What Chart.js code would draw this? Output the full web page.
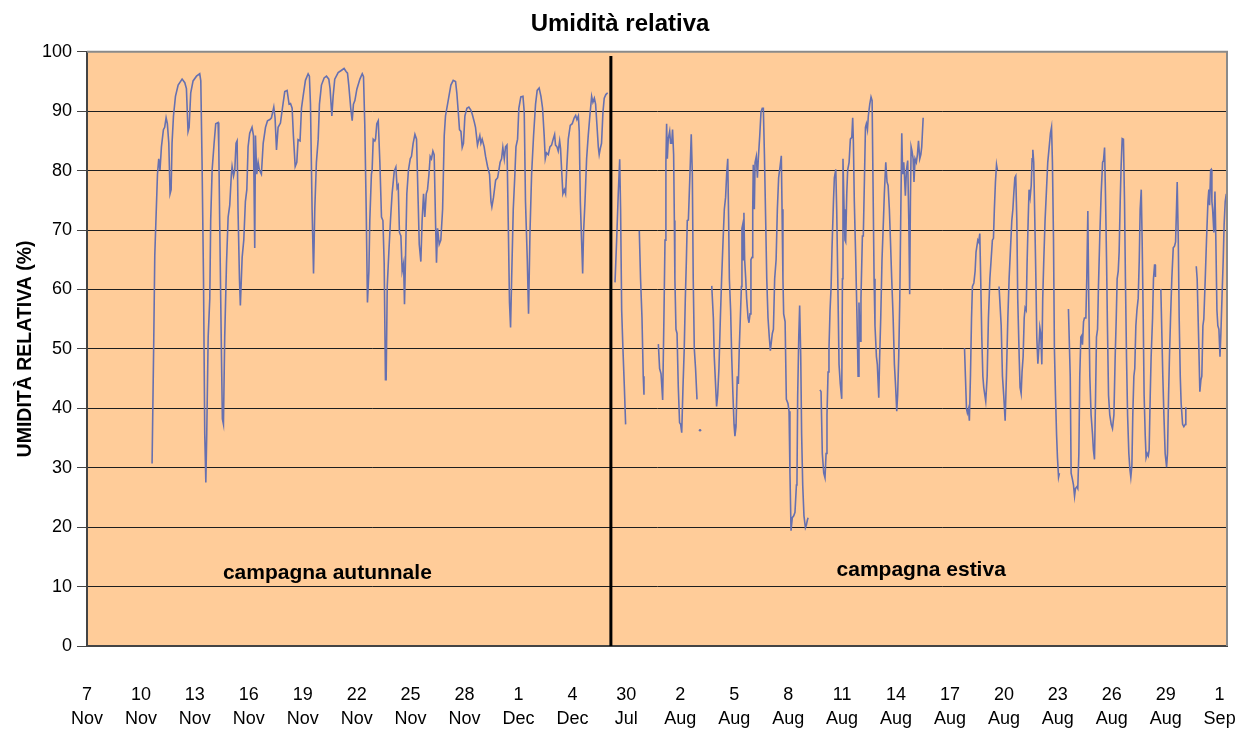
<!DOCTYPE html>
<html>
<head>
<meta charset="utf-8">
<title>Umidità relativa</title>
<script src="https://cdn.jsdelivr.net/npm/chart.js@4.4.1/dist/chart.umd.min.js"></script>
<style>
    html, body { margin: 0; padding: 0; background: #ffffff; }
    #wrap { width: 1240px; height: 731px; }
</style>
</head>
<body>
<div id="wrap"><canvas id="rhChart" width="1240" height="731"></canvas></div>
<script>
// Days counted from 7 Nov (autumn) and continued on the same axis for the summer campaign
const tickDays = [0, 3, 6, 9, 12, 15, 18, 21, 24, 27, 30, 33, 36, 39, 42, 45, 48, 51, 54, 57, 60, 63];
const tickLabels = [
    ['7', 'Nov'], ['10', 'Nov'], ['13', 'Nov'], ['16', 'Nov'], ['19', 'Nov'], ['22', 'Nov'],
    ['25', 'Nov'], ['28', 'Nov'], ['1', 'Dec'], ['4', 'Dec'], ['30', 'Jul'], ['2', 'Aug'],
    ['5', 'Aug'], ['8', 'Aug'], ['11', 'Aug'], ['14', 'Aug'], ['17', 'Aug'], ['20', 'Aug'],
    ['23', 'Aug'], ['26', 'Aug'], ['29', 'Aug'], ['1', 'Sep']
];
const yTicks = [0, 10, 20, 30, 40, 50, 60, 70, 80, 90, 100];

// campagna autunnale
const autumnDays = [
    3.62, 3.71, 3.77, 3.82, 3.92, 3.99, 4.06, 4.14, 4.25, 4.32, 4.40, 4.47, 4.55, 4.62, 4.68, 4.73, 4.81, 4.92, 5.07, 5.29,
    5.44, 5.53, 5.62, 5.68, 5.77, 5.90, 6.09, 6.27, 6.33, 6.40, 6.48, 6.55, 6.61, 6.66, 6.74, 6.83, 6.88, 6.96, 7.07, 7.16,
    7.29, 7.33, 7.38, 7.48, 7.53, 7.59, 7.66, 7.76, 7.85, 7.94, 8.03,
    8.07, 8.15, 8.22, 8.29, 8.35, 8.40, 8.48, 8.53, 8.63, 8.72, 8.81, 8.89, 8.96, 9.05, 9.18, 9.26, 9.33, 9.37, 9.44, 9.52,
    9.59, 9.70, 9.80, 9.93, 10.04, 10.17, 10.26, 10.39, 10.46, 10.54, 10.63, 10.76, 10.87, 11.00, 11.13, 11.24, 11.32, 11.41, 11.48, 11.58,
    11.67, 11.74, 11.85, 11.93, 12.02, 12.15, 12.30, 12.37, 12.43, 12.52, 12.60, 12.67, 12.76, 12.86, 12.93, 13.04, 13.19, 13.32, 13.45, 13.52,
    13.62, 13.69, 13.78, 13.97, 14.16, 14.30, 14.41, 14.49, 14.56, 14.67, 14.75, 14.82, 14.90, 15.01, 15.08, 15.18, 15.31, 15.38, 15.45, 15.53,
    15.60, 15.68, 15.73, 15.82, 15.86, 15.92, 16.01,
    16.05, 16.12, 16.20, 16.29, 16.38, 16.46, 16.53, 16.60, 16.64, 16.70, 16.79, 16.88, 16.97, 17.09, 17.18, 17.25, 17.31, 17.38, 17.46, 17.53,
    17.61, 17.66, 17.72, 17.79, 17.88, 17.98, 18.05, 18.14, 18.24, 18.33, 18.42, 18.48, 18.57, 18.64, 18.72, 18.79, 18.87, 18.94, 19.02, 19.09,
    19.16, 19.24, 19.31, 19.39, 19.44, 19.50, 19.59, 19.68, 19.78, 19.87, 19.94, 20.09, 20.24, 20.37, 20.50, 20.57, 20.65, 20.72, 20.80, 20.87,
    20.94, 21.02, 21.13, 21.24, 21.35, 21.43, 21.54, 21.61, 21.72, 21.80, 21.85, 21.91, 21.98, 22.09, 22.17, 22.28, 22.39, 22.47, 22.52, 22.61,
    22.73, 22.84, 22.91, 22.98, 23.06, 23.13, 23.21, 23.28, 23.36, 23.43, 23.50, 23.56, 23.62, 23.71, 23.80,
    23.86, 23.95, 24.02, 24.13, 24.25, 24.32, 24.39, 24.49, 24.56, 24.64, 24.73, 24.84, 24.95, 25.04, 25.15, 25.25, 25.34, 25.43, 25.49, 25.56,
    25.66, 25.75, 25.84, 25.93, 26.01, 26.06, 26.14, 26.21, 26.29, 26.34, 26.40, 26.47, 26.55, 26.62, 26.68, 26.77, 26.88, 26.99, 27.10, 27.18,
    27.25, 27.33, 27.38, 27.44, 27.51, 27.57, 27.62, 27.70, 27.79, 27.88, 27.97, 28.07, 28.14, 28.22, 28.29, 28.36, 28.44, 28.49, 28.55, 28.62,
    28.70, 28.77, 28.86, 28.96
];
const autumnRH = [
    30.7, 50.7, 65.7, 70.3, 79.4, 82.0, 80.1, 84.0, 86.9, 87.3, 88.9, 87.9, 84.6, 76.1, 76.8, 84.6, 89.2, 92.5, 94.4, 95.4,
    94.8, 93.8, 86.6, 87.3, 93.1, 95.1, 95.9, 96.3, 95.1, 81.4, 61.8, 35.6, 27.5, 35.6, 52.0, 58.5, 71.6, 80.1, 84.6, 87.9,
    88.1, 84.0, 71.6, 48.7, 38.2, 37.3, 52.0, 64.4, 72.2, 74.2, 79.4,
    80.7, 79.1, 80.1, 84.6, 85.0, 73.5, 61.8, 57.3, 65.4, 68.3, 74.8, 76.8, 84.0, 86.3, 87.3, 85.9, 67.0, 85.9, 79.4, 81.4,
    80.1, 79.4, 84.6, 87.3, 88.4, 88.6, 88.9, 90.7, 88.9, 83.5, 87.3, 88.0, 90.5, 93.3, 93.5, 91.2, 91.3, 90.5, 85.9, 80.7,
    81.4, 85.2, 85.0, 90.5, 92.5, 95.2, 96.3, 95.9, 91.2, 73.5, 62.7, 73.5, 81.4, 85.3, 91.2, 94.4, 95.6, 95.9, 95.4, 93.8,
    89.2, 92.5, 95.4, 96.5, 96.9, 97.2, 96.7, 96.4, 94.4, 90.5, 88.4, 91.2, 91.8, 93.7, 94.4, 95.4, 96.3, 95.8, 87.9, 73.5,
    57.8, 63.1, 71.6, 79.4, 80.1, 85.3, 85.0,
    85.3, 87.9, 88.4, 81.4, 72.2, 71.6, 64.4, 44.8, 44.8, 60.5, 66.3, 71.6, 76.1, 79.9, 80.6, 77.1, 77.5, 69.6, 69.0, 63.1,
    64.4, 57.5, 65.7, 76.1, 80.1, 82.0, 82.4, 84.6, 86.1, 85.3, 74.8, 67.6, 64.7, 71.6, 76.1, 72.2, 76.1, 76.8, 79.4, 82.4,
    82.0, 83.3, 82.7, 70.9, 64.5, 70.3, 67.6, 68.3, 73.5, 85.9, 89.2, 91.8, 94.4, 95.2, 95.0, 93.1, 89.9, 86.9, 86.6, 83.9,
    84.6, 89.2, 90.5, 90.7, 90.2, 89.5, 88.2, 87.3, 84.3, 85.3, 85.9, 84.6, 85.3, 84.0, 82.4, 80.7, 79.4, 74.8, 73.9, 75.5,
    78.4, 78.8, 80.1, 81.4, 82.0, 83.9, 82.0, 84.0, 84.3, 71.6, 57.8, 53.6, 61.8, 73.5, 79.4,
    84.0, 85.3, 90.5, 92.4, 92.5, 89.9, 74.8, 65.0, 55.9, 69.6, 79.4, 85.9, 91.2, 93.5, 93.9, 92.5, 90.5, 85.9, 82.0, 83.0,
    82.7, 84.0, 84.3, 85.3, 86.1, 84.3, 84.0, 83.3, 85.0, 83.7, 80.1, 76.1, 76.8, 76.1, 80.1, 85.3, 87.6, 87.9, 88.9, 89.3,
    88.6, 89.2, 86.6, 74.8, 68.3, 62.7, 69.6, 74.8, 82.0, 85.9, 89.2, 92.5, 91.5, 92.2, 91.2, 87.9, 84.0, 82.7, 83.7, 84.6,
    89.9, 92.2, 92.8, 93.1
];

// campagna estiva (null = missing data)
const summerDays = [
    29.37, 29.46, 29.55, 29.63, 29.68, 29.74, 29.81, 29.89, 29.96, 30.30,
    30.72, 30.79, 30.87, 30.94, 30.98, 31.40,
    31.78, 31.85, 31.93, 32.02, 32.09, 32.15, 32.20, 32.24, 32.28, 32.33, 32.41, 32.46, 32.52, 32.57, 32.63, 32.67, 32.70, 32.76, 32.82, 32.89,
    32.96, 33.02, 33.08, 33.15, 33.22, 33.28, 33.34, 33.39, 33.45, 33.50, 33.56, 33.61, 33.67, 33.72, 33.78, 33.85, 33.93, 34.02,
    34.10, 34.40,
    34.75, 34.84, 34.89, 34.95, 35.02, 35.08, 35.15, 35.23, 35.30, 35.38, 35.45, 35.52, 35.58, 35.64, 35.69, 35.73, 35.80, 35.86, 35.93, 35.99,
    36.04, 36.10, 36.17, 36.23, 36.28, 36.34, 36.40, 36.43, 36.47, 36.51, 36.54, 36.58, 36.64, 36.69, 36.77, 36.82, 36.88, 36.93, 36.99, 37.03,
    37.06, 37.12, 37.16, 37.23, 37.29, 37.34, 37.42, 37.49, 37.56, 37.62, 37.68, 37.75, 37.81, 37.88, 37.95, 38.01, 38.07, 38.12, 38.18, 38.25,
    38.33, 38.40, 38.47, 38.55, 38.62, 38.66, 38.71, 38.75, 38.83, 38.90, 38.99, 39.05, 39.10, 39.16, 39.23, 39.31, 39.38, 39.46, 39.49, 39.53,
    39.59, 39.64, 39.70, 39.75, 39.81, 39.88, 39.96, 40.01, 40.07, 40.11, 40.40,
    40.77, 40.83, 40.90, 40.98, 41.05, 41.11, 41.16, 41.22, 41.27, 41.33, 41.39, 41.44, 41.52, 41.57, 41.65, 41.70, 41.76, 41.83, 41.90, 41.98,
    42.02, 42.05, 42.11, 42.16, 42.20, 42.26, 42.31, 42.39, 42.46, 42.54, 42.59, 42.63, 42.68, 42.76, 42.83, 42.89, 42.94, 43.00, 43.05, 43.13,
    43.18, 43.24, 43.30, 43.35, 43.41, 43.46, 43.54, 43.61, 43.67, 43.72, 43.78, 43.83, 43.91, 43.96, 44.04, 44.09, 44.15, 44.22, 44.30, 44.35,
    44.43, 44.50, 44.56, 44.63, 44.69, 44.76, 44.84, 44.91, 44.98, 45.04, 45.09, 45.15, 45.21, 45.26, 45.32, 45.37, 45.43, 45.47, 45.52, 45.58,
    45.65, 45.71, 45.76, 45.80, 45.84, 45.89, 45.95, 46.00, 46.06, 46.13, 46.19, 46.25, 46.32, 46.38, 46.43, 46.51, 47.60,
    48.81, 48.86, 48.92, 48.97, 49.03, 49.08, 49.14, 49.20, 49.25, 49.33, 49.40, 49.45, 49.55, 49.60, 49.66, 49.71, 49.77, 49.83, 49.88, 49.94,
    49.99, 50.07, 50.14, 50.22, 50.29, 50.36, 50.42, 50.47, 50.53, 50.59, 50.64, 50.68,
    50.73, 50.85, 50.92, 50.99, 51.07, 51.14, 51.22, 51.29, 51.37, 51.44, 51.50, 51.55, 51.61, 51.66, 51.72, 51.77, 51.85, 51.90, 51.96, 52.01,
    52.07, 52.13, 52.18, 52.24, 52.29, 52.35, 52.40, 52.46, 52.52, 52.57, 52.61, 52.66, 52.72, 52.78, 52.83, 52.89, 52.94, 53.00, 53.05, 53.11,
    53.16, 53.22, 53.29, 53.37, 53.44, 53.52, 53.59, 53.65, 53.70, 53.76, 53.81, 53.87, 53.93, 53.98, 54.04, 54.09, 54.30,
    54.59, 54.69, 54.74, 54.81, 54.87, 54.93, 54.98, 55.06, 55.11, 55.17, 55.22, 55.28, 55.34, 55.37, 55.43, 55.48, 55.56, 55.61, 55.67, 55.72,
    55.78, 55.85, 55.93, 55.98, 56.04, 56.10, 56.15, 56.21, 56.26, 56.34, 56.41, 56.49, 56.54, 56.60, 56.65, 56.71, 56.76, 56.82, 56.89, 56.97,
    57.04, 57.12, 57.19, 57.25, 57.30, 57.36, 57.41, 57.47, 57.52, 57.58, 57.65, 57.71, 57.76, 57.82, 57.88, 57.95, 58.01, 58.06, 58.12, 58.17,
    58.23, 58.28, 58.34, 58.40, 58.47, 58.53, 58.58, 58.64, 58.69, 58.75, 58.80, 58.86, 58.91, 58.97, 59.03, 59.08, 59.14, 59.19, 59.27, 59.32,
    59.38, 59.42, 59.43, 59.60,
    59.73, 59.79, 59.84, 59.90, 59.97, 60.05, 60.10, 60.16, 60.21, 60.27, 60.34, 60.42, 60.49, 60.55, 60.60, 60.64, 60.70, 60.75, 60.81, 60.86,
    60.94, 61.01, 61.09, 61.12, 61.40,
    61.70, 61.75, 61.83, 61.90, 61.96, 62.01, 62.07, 62.12, 62.20, 62.27, 62.35, 62.40, 62.44, 62.50, 62.53, 62.57, 62.61, 62.68, 62.74, 62.79,
    62.85, 62.90, 62.96, 63.02, 63.07, 63.13, 63.20, 63.25, 63.31, 63.37
];
const summerRH = [
    61.2, 68.3, 76.1, 81.9, 73.5, 56.5, 50.0, 43.5, 37.3, null,
    69.9, 61.8, 55.2, 45.4, 42.3, null,
    50.8, 46.7, 45.8, 41.4, 55.2, 68.3, 81.4, 87.9, 82.0, 85.3, 86.6, 84.6, 84.6, 86.9, 82.7, 71.6, 61.8, 53.3, 52.6, 43.5,
    37.6, 37.3, 35.9, 43.5, 50.0, 58.5, 65.0, 71.6, 71.7, 76.1, 81.4, 86.1, 79.4, 61.8, 50.0, 46.7, 41.5, null,
    36.3, null,
    60.6, 55.2, 48.7, 44.8, 40.3, 42.2, 46.7, 55.2, 61.8, 68.3, 73.5, 75.5, 79.4, 82.0, 71.6, 61.8, 56.5, 48.7, 42.2, 37.3,
    35.3, 36.9, 45.4, 44.1, 50.0, 55.2, 60.5, 70.3, 70.9, 65.0, 72.9, 65.0, 61.8, 58.5, 55.2, 54.4, 55.9, 65.0, 65.4, 73.5,
    81.0, 73.5, 81.4, 82.4, 78.8, 82.0, 85.9, 89.9, 90.5, 90.5, 82.7, 71.6, 61.8, 55.2, 52.0, 49.7, 51.3, 52.6, 53.3, 61.8,
    65.0, 73.5, 78.8, 80.7, 82.5, 73.5, 61.8, 55.9, 54.6, 41.5, 40.8, 39.5, 29.1, 19.4, 21.6, 21.9, 22.5, 27.1, 27.5, 42.2,
    52.0, 57.3, 48.7, 35.6, 27.1, 21.9, 19.9, 20.3, 21.2, 21.6, null,
    43.1, 42.8, 32.4, 29.1, 28.3, 32.4, 38.9, 46.1, 50.0, 56.5, 60.5, 67.0, 74.8, 78.8, 80.2, 73.5, 61.8, 47.4, 44.1, 41.6,
    61.8, 82.0, 73.5, 68.3, 68.0, 76.1, 80.1, 81.4, 85.3, 85.6, 88.9, 84.6, 74.8, 65.0, 55.2, 45.4, 57.8, 51.3, 58.5, 69.0,
    69.0, 78.1, 87.3, 87.9, 86.9, 89.2, 91.2, 92.4, 91.8, 78.1, 61.8, 53.9, 48.7, 47.4, 41.8, 48.7, 55.2, 65.0, 71.6, 76.1,
    81.4, 78.1, 77.5, 73.5, 68.3, 61.8, 55.2, 47.4, 43.5, 39.5, 42.2, 48.7, 58.5, 71.6, 86.3, 79.4, 81.4, 79.1, 75.8, 80.1,
    81.7, 71.6, 59.2, 74.8, 84.0, 83.3, 82.0, 78.1, 82.0, 81.4, 82.7, 85.0, 82.0, 82.7, 84.0, 88.9, null,
    50.1, 45.4, 39.9, 39.2, 39.9, 37.9, 45.4, 55.2, 60.5, 61.1, 63.1, 66.3, 68.3, 68.0, 69.4, 61.8, 52.0, 45.4, 43.5, 42.2,
    41.2, 45.4, 55.2, 61.8, 65.0, 68.3, 68.6, 73.5, 78.1, 81.0, 80.1, null,
    60.5, 53.9, 45.4, 42.2, 37.9, 45.4, 55.2, 61.8, 67.0, 71.6, 73.5, 76.1, 78.8, 79.1, 71.6, 58.5, 48.7, 43.5, 42.5, 46.1,
    48.7, 55.2, 56.9, 56.5, 64.4, 71.6, 76.8, 75.5, 77.5, 82.0, 83.5, 81.4, 71.6, 61.8, 52.0, 47.5, 50.0, 53.6, 52.6, 47.4,
    58.5, 65.0, 71.6, 76.8, 81.4, 84.0, 86.3, 87.3, 81.4, 68.3, 50.0, 42.2, 35.6, 31.7, 28.4, 29.1, null,
    56.7, 45.4, 29.1, 28.1, 27.1, 25.2, 26.5, 26.8, 26.5, 32.4, 45.4, 52.0, 52.3, 50.7, 54.6, 55.2, 55.2, 61.8, 73.2, 58.5,
    45.4, 38.9, 35.6, 33.0, 31.4, 42.2, 52.0, 53.3, 60.5, 69.6, 76.1, 81.4, 81.7, 83.9, 76.1, 65.0, 53.9, 42.2, 38.9, 37.3,
    36.6, 38.9, 48.7, 55.2, 61.8, 63.1, 66.3, 74.8, 80.7, 85.4, 85.3, 74.8, 61.8, 48.7, 38.9, 32.4, 29.7, 28.4, 30.4, 38.9,
    45.4, 46.7, 53.9, 56.5, 58.5, 65.0, 73.5, 76.8, 68.3, 55.2, 42.2, 35.6, 31.7, 32.4, 32.0, 33.0, 42.2, 48.7, 55.2, 61.8,
    64.1, 64.1, 62.1, null,
    60.1, 52.0, 45.4, 38.9, 32.4, 30.1, 32.4, 42.2, 48.7, 55.2, 61.8, 67.0, 67.3, 68.0, 73.5, 78.1, 68.3, 55.2, 45.4, 40.8,
    37.3, 36.9, 37.3, 40.2, null,
    63.9, 61.8, 52.0, 42.8, 44.8, 45.4, 53.9, 55.0, 61.8, 68.3, 74.8, 76.8, 74.2, 80.1, 80.2, 74.8, 73.5, 69.6, 76.5, 68.3,
    56.5, 53.9, 53.3, 48.7, 52.6, 58.5, 65.0, 70.9, 74.8, 76.1
];

// separator between the two campaigns and the campaign captions
const breakDay = 29.14;
const campaignLabels = ['campagna autunnale', 'campagna estiva'];
const campaignLabelDays = [13.37, 46.40];
const campaignLabelRH = [11.3, 11.8];

const FONT = '"Liberation Sans", Arial, Helvetica, sans-serif';
const lineColor = '#6670B0';

function toPoints(days, values) {
    return days.map((d, i) => ({ x: d, y: values[i] }));
}

// orange plot area, outer frame, campaign separator and captions
const plotDecor = {
    id: 'plotDecor',
    beforeDraw(chart) {
        const { ctx, chartArea: a } = chart;
        ctx.save();
        ctx.fillStyle = '#FFCC99';
        ctx.fillRect(a.left, a.top, a.right - a.left, a.bottom - a.top);
        ctx.restore();
    },
    afterDatasetsDraw(chart) {
        const { ctx, chartArea: a, scales: { x, y } } = chart;
        ctx.save();
        ctx.strokeStyle = '#8a8a8a';
        ctx.lineWidth = 2;
        ctx.beginPath();
        ctx.moveTo(a.left, a.top);
        ctx.lineTo(a.right, a.top);
        ctx.lineTo(a.right, a.bottom);
        ctx.stroke();

        const bx = x.getPixelForValue(breakDay);
        ctx.strokeStyle = '#000000';
        ctx.lineWidth = 3;
        ctx.beginPath();
        ctx.moveTo(bx, y.getPixelForValue(99.3));
        ctx.lineTo(bx, a.bottom);
        ctx.stroke();

        ctx.fillStyle = '#000000';
        ctx.font = 'bold 21px ' + FONT;
        ctx.textAlign = 'center';
        ctx.textBaseline = 'alphabetic';
        campaignLabels.forEach((t, i) => {
            ctx.fillText(t, x.getPixelForValue(campaignLabelDays[i]), y.getPixelForValue(campaignLabelRH[i]));
        });
        ctx.restore();
    }
};

// single readings with no neighbours get a small dot, as in the original
function isolatedRadius(ctx) {
    const i = ctx.dataIndex;
    const v = summerRH;
    if (v[i] !== null && (i === 0 || v[i - 1] === null) && (i === v.length - 1 || v[i + 1] === null)) return 1.3;
    return 0;
}

Chart.defaults.font.family = FONT;
Chart.defaults.color = '#000000';

new Chart(document.getElementById('rhChart').getContext('2d'), {
    type: 'line',
    data: {
        datasets: [
            {
                label: 'campagna autunnale',
                data: toPoints(autumnDays, autumnRH),
                borderColor: lineColor,
                borderWidth: 1.6,
                pointRadius: 0,
                tension: 0,
                spanGaps: false
            },
            {
                label: 'campagna estiva',
                data: toPoints(summerDays, summerRH),
                borderColor: lineColor,
                backgroundColor: lineColor,
                borderWidth: 1.6,
                pointRadius: isolatedRadius,
                pointBorderWidth: 0,
                pointBackgroundColor: lineColor,
                tension: 0,
                spanGaps: false
            }
        ]
    },
    options: {
        responsive: false,
        animation: false,
        devicePixelRatio: 1,
        layout: { padding: 0 },
        plugins: {
            legend: { display: false },
            tooltip: { enabled: false },
            title: {
                display: true,
                text: 'Umidità relativa',
                color: '#000000',
                font: { size: 24, weight: 'bold' },
                padding: { top: 10, bottom: 13 }
            }
        },
        scales: {
            x: {
                type: 'linear',
                min: 0,
                max: 63.41,
                afterBuildTicks(scale) {
                    scale.ticks = tickDays.map(v => ({ value: v }));
                },
                ticks: {
                    autoSkip: false,
                    maxRotation: 0,
                    minRotation: 0,
                    padding: 29,
                    color: '#000000',
                    font: { size: 18, lineHeight: 1.33 },
                    callback: (value, index) => tickLabels[index]
                },
                grid: { display: false },
                border: { display: true, color: '#444444', width: 2 },
                afterFit(scale) {
                    scale.height = 85;
                    scale.paddingLeft = 0;
                    scale.paddingRight = 13;
                }
            },
            y: {
                min: 0,
                max: 100,
                afterBuildTicks(scale) {
                    scale.ticks = yTicks.map(v => ({ value: v }));
                },
                ticks: {
                    padding: 5,
                    color: '#000000',
                    font: { size: 18 }
                },
                grid: {
                    color: '#1e1e1e',
                    lineWidth: 1,
                    tickLength: 10,
                    tickColor: '#444444'
                },
                border: { display: true, color: '#444444', width: 2 },
                title: {
                    display: true,
                    text: 'UMIDITÀ RELATIVA (%)',
                    color: '#000000',
                    font: { size: 19.5, weight: 'bold' },
                    padding: { top: 14, bottom: 0 }
                },
                afterFit(scale) { scale.width = 87; }
            }
        }
    },
    plugins: [plotDecor]
});
</script>
</body>
</html>
